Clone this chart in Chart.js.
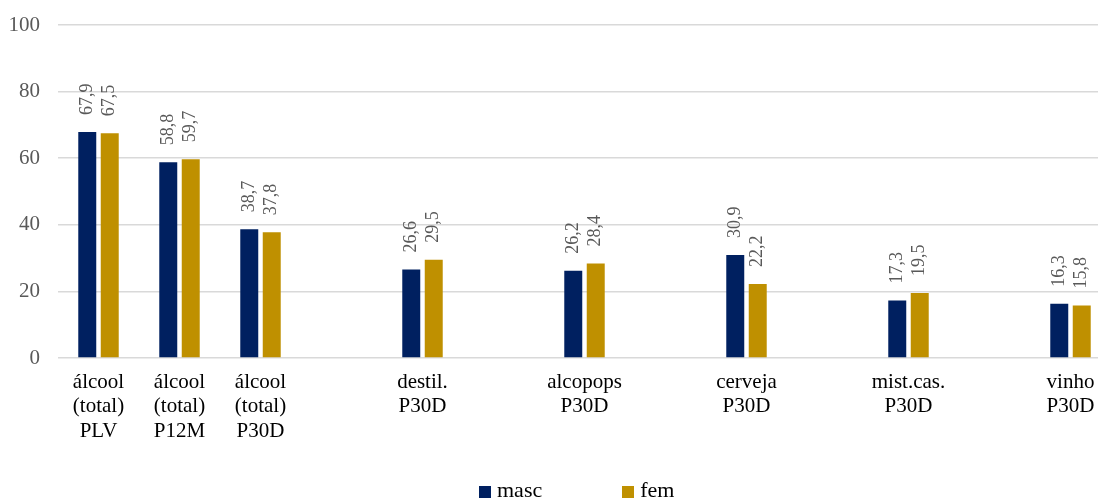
<!DOCTYPE html>
<html lang="pt">

<head>
    <meta charset="UTF-8">
    <script src="https://cdn.jsdelivr.net/npm/chart.js"></script>
    <title>Consumo de álcool por sexo</title>
    <style>
        body { margin: 0; overflow: hidden; background: #fff; }
        #wrap { position: relative; width: 1098px; height: 502px; overflow: hidden; }
        #legend { position: absolute; left: 479px; top: 477px; display: flex; font: 22px "Liberation Serif", serif; color: #000; }
        .item { display: flex; align-items: center; margin-right: 80px; }
        .box { width: 12px; height: 12px; margin-right: 6px; margin-top: 3px; }
    </style>
</head>

<body>
    <div id="wrap">
        <canvas id="chart" width="1111" height="502"></canvas>
        <div id="legend"></div>
    </div>

    <script>
        // categorias (as vazias sao colunas em branco da folha original)
        const categories = [
            ['álcool', '(total)', 'PLV'], ['álcool', '(total)', 'P12M'], ['álcool', '(total)', 'P30D'], '',
            ['destil.', 'P30D'], '', ['alcopops', 'P30D'], '', ['cerveja', 'P30D'], '',
            ['mist.cas.', 'P30D'], '', ['vinho', 'P30D']
        ];
        const masc = [67.9, 58.8, 38.7, null, 26.6, null, 26.2, null, 30.9, null, 17.3, null, 16.3];
        const fem = [67.5, 59.7, 37.8, null, 29.5, null, 28.4, null, 22.2, null, 19.5, null, 15.8];
        const yTicks = [0, 20, 40, 60, 80, 100];

        const serif = '"Liberation Serif", "Times New Roman", serif';

        // etiquetas de valor na vertical por cima das barras
        const valueLabels = {
            id: 'valueLabels',
            afterDatasetsDraw(chart) {
                const ctx = chart.ctx;
                ctx.save();
                ctx.font = '18px ' + serif;
                ctx.fillStyle = '#595959';
                ctx.textAlign = 'left';
                ctx.textBaseline = 'middle';
                chart.data.datasets.forEach((ds, i) => {
                    chart.getDatasetMeta(i).data.forEach((bar, j) => {
                        const v = ds.data[j];
                        if (v == null) return;
                        ctx.save();
                        ctx.translate(bar.x, bar.y - 17);
                        ctx.rotate(-Math.PI / 2);
                        ctx.fillText(v.toFixed(1).replace('.', ','), 0, 0);
                        ctx.restore();
                    });
                });
                ctx.restore();
            }
        };

        const chart = new Chart(document.getElementById('chart'), {
            type: 'bar',
            data: {
                labels: categories,
                datasets: [
                    { label: 'masc', data: masc, backgroundColor: '#002060' },
                    { label: 'fem', data: fem, backgroundColor: '#BF9000' }
                ]
            },
            options: {
                responsive: false,
                animation: false,
                categoryPercentage: 0.555,
                barPercentage: 0.8,
                layout: { padding: { top: 25, left: 0, right: 0, bottom: 0 } },
                plugins: {
                    legend: { display: false },
                    tooltip: { enabled: false }
                },
                scales: {
                    x: {
                        grid: { display: false, drawTicks: false },
                        border: { display: false },
                        ticks: {
                            color: '#000',
                            font: { family: serif, size: 21, lineHeight: 24.5 / 21 },
                            padding: 12,
                            maxRotation: 0,
                            autoSkip: false
                        },
                        afterFit: s => { s.height = 144; }
                    },
                    y: {
                        min: 0,
                        max: 100,
                        afterBuildTicks: s => { s.ticks = yTicks.map(v => ({ value: v })); },
                        grid: { color: '#d9d9d9', lineWidth: 1.5, drawTicks: false },
                        border: { display: false },
                        ticks: {
                            color: '#595959',
                            font: { family: serif, size: 21 },
                            padding: 18
                        },
                        afterFit: s => { s.width = 58; s.paddingTop = 0; s.paddingBottom = 0; }
                    }
                }
            },
            plugins: [valueLabels]
        });

        // legenda em html, a partir dos datasets
        const legend = document.getElementById('legend');
        chart.data.datasets.forEach(ds => {
            const item = document.createElement('div');
            item.className = 'item';
            item.innerHTML = '<span class="box" style="background:' + ds.backgroundColor + '"></span>' + ds.label;
            legend.appendChild(item);
        });
    </script>
</body>

</html>
